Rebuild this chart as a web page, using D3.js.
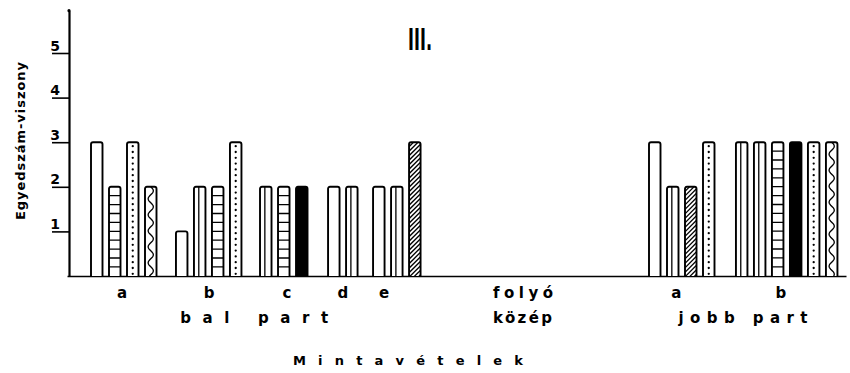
<!DOCTYPE html>
<html><head><meta charset="utf-8">
<script src="https://cdn.jsdelivr.net/npm/d3@7"></script>
<style>body{margin:0;background:#fff}svg{display:block}</style>
</head><body>
<svg id="c" width="850" height="373"></svg>
<script>
// ---------- data ----------
const groupNames    = ["a", "b", "c", "d", "e", "folyó", "a", "b"];
const groupValues   = [[3,2,3,2], [1,2,2,3], [2,2,2], [2,2], [2,2,3], [], [3,2,2,3], [3,3,3,3,3,3]];
const groupPatterns = [
  ["plain","hlines","dotted","wavy"],
  ["plain","double","hlines","dotted"],
  ["double","hlines","black"],
  ["plain","double"],
  ["plain","double","hatched"],
  [],
  ["plain","double","hatched","dotted"],
  ["double","double","hlines","black","dotted","wavy"]
];
// position of each group's first bar and of its label along the sampling axis (slot units)
const groupStart    = [0, 4.72, 9.39, 13.17, 15.67, null, 31, 35.83];
const groupLabelAt  = [1.4, 6.24, 10.57, 13.68, 15.96, 23.68, 32.2, 38.0];
const sideNames     = ["bal part", "közép", "jobb part"];
const sideLabelAt   = [8.75, 23.65, 35.9];
const yTicks        = [1, 2, 3, 4, 5];
const title = "III.";
const yTitle = "Egyedszám-viszony";
const xTitle = "Mintavételek";

// ---------- layout ----------
const svg = d3.select("#c");
svg.append("rect").attr("width",850).attr("height",373).attr("fill","#fff");
const y = d3.scaleLinear().domain([0, 5]).range([276, 53]);
const x = d3.scaleLinear().domain([0, 41]).range([91, 829]);
const barW = 11.5;
const FONT = "'DejaVu Sans', sans-serif";

// y axis
const yAx = y.copy().domain([0, 5.95]).range([276, y(5.95)]);
const gy = svg.append("g").attr("transform","translate(69,0)")
  .call(d3.axisLeft(yAx).tickValues(yTicks).tickSize(17).tickSizeOuter(0).tickFormat(d => d));
gy.select(".domain").attr("stroke","#000").attr("stroke-width",2.2);
gy.selectAll(".tick line").attr("stroke","#000").attr("stroke-width",1.6);
gy.selectAll(".tick text").attr("x",-14).attr("y",-3).attr("dy",0)
  .attr("text-anchor","middle").attr("fill","#000")
  .style("font-family",FONT).style("font-weight","bold").style("font-size","14px");
svg.append("circle").attr("cx",69).attr("cy",yAx(5.95)).attr("r",1.6).attr("fill","#000");

// x axis (baseline)
const xAx = x.copy().domain([x.invert(67), x.invert(846)]).range([67, 846]);
const gx = svg.append("g").attr("transform",`translate(0,${y(0)})`)
  .call(d3.axisBottom(xAx).tickValues([]).tickSizeOuter(0));
gx.select(".domain").attr("stroke","#000").attr("stroke-width",1.7);

// bars
const bars = [];
groupValues.forEach((vals, gi) => {
  vals.forEach((v, j) => bars.push({slot: groupStart[gi] + j, value: v, pattern: groupPatterns[gi][j], id: bars.length}));
});

const defs = svg.append("defs");
const barG = svg.append("g");
bars.forEach(b => {
  const w = barW, h = y(0) - y(b.value);
  const g = barG.append("g").attr("transform",`translate(${x(b.slot)},${y(b.value)})`);
  const r = 2;
  const outline = `M0,${h} V${r} Q0,0 ${r},0 H${w-r} Q${w},0 ${w},${r} V${h}`;
  defs.append("clipPath").attr("id","clip"+b.id).append("rect").attr("width",w).attr("height",h);
  g.append("path").attr("d", outline + "Z").attr("fill", b.pattern === "black" ? "#000" : "#fff");
  const inner = g.append("g").attr("clip-path",`url(#clip${b.id})`)
    .attr("stroke","#000").attr("stroke-width",1.3).attr("fill","none");
  if (b.pattern === "hlines") {
    for (let t = 8.9; t < h - 1; t += 8.9) inner.append("line").attr("x1",0).attr("x2",w).attr("y1",t).attr("y2",t);
  } else if (b.pattern === "double") {
    inner.append("line").attr("x1",w*0.42).attr("x2",w*0.42).attr("y1",0).attr("y2",h);
  } else if (b.pattern === "dotted") {
    for (let t = 4; t < h - 1; t += 5.8) inner.append("circle").attr("cx",w/2).attr("cy",t).attr("r",1.15).attr("fill","#000").attr("stroke","none");
  } else if (b.pattern === "wavy") {
    const pts = d3.range(0, h + 1, 1).map(t => [w/2 + 2.6*Math.sin(2*Math.PI*t/16), t]);
    inner.append("path").attr("d", d3.line()(pts));
  } else if (b.pattern === "hatched") {
    for (let t = 0; t < h + w; t += 4.5) inner.append("line").attr("x1",0).attr("y1",t).attr("x2",w).attr("y2",t - w);
  }
  g.append("path").attr("d", outline).attr("fill","none").attr("stroke","#000").attr("stroke-width",1.9);
});

// helper for spaced text
function spaced(txt, cx, yy, len, size) {
  svg.append("text").attr("x", cx - len/2).attr("y", yy)
    .attr("textLength", len).attr("lengthAdjust","spacing")
    .style("font-family",FONT).style("font-weight","bold").style("font-size",size+"px")
    .attr("fill","#000").text(txt);
}

// row 1 group labels
const row1Len = [null,null,null,null,null,60,null,null];
groupNames.forEach((n, i) => {
  const cx = x(groupLabelAt[i]) + barW/2;
  if (row1Len[i]) spaced(n, cx, 298, row1Len[i], 15);
  else svg.append("text").attr("x",cx).attr("y",298).attr("text-anchor","middle")
    .style("font-family",FONT).style("font-weight","bold").style("font-size","15px").attr("fill","#000").text(n);
});
// row 2 side labels
const row2Len = [148, 59, 129];
sideNames.forEach((n, i) => spaced(n, x(sideLabelAt[i]) + barW/2, 323, row2Len[i], 15));

// x title
spaced(xTitle, 408, 365, 230, 13);

// y title
svg.append("text").attr("transform","translate(25,141) rotate(-90)")
  .attr("x",-79).attr("y",0).attr("textLength",158).attr("lengthAdjust","spacing")
  .style("font-family",FONT).style("font-weight","bold").style("font-size","13px")
  .attr("fill","#000").text(yTitle);

// chart title
svg.append("text").attr("x",408).attr("y",50).attr("textLength",24).attr("lengthAdjust","spacingAndGlyphs")
  .style("font-family",FONT).style("font-weight","bold").style("font-size","30px")
  .attr("fill","#000").text(title);
</script>
</body></html>
